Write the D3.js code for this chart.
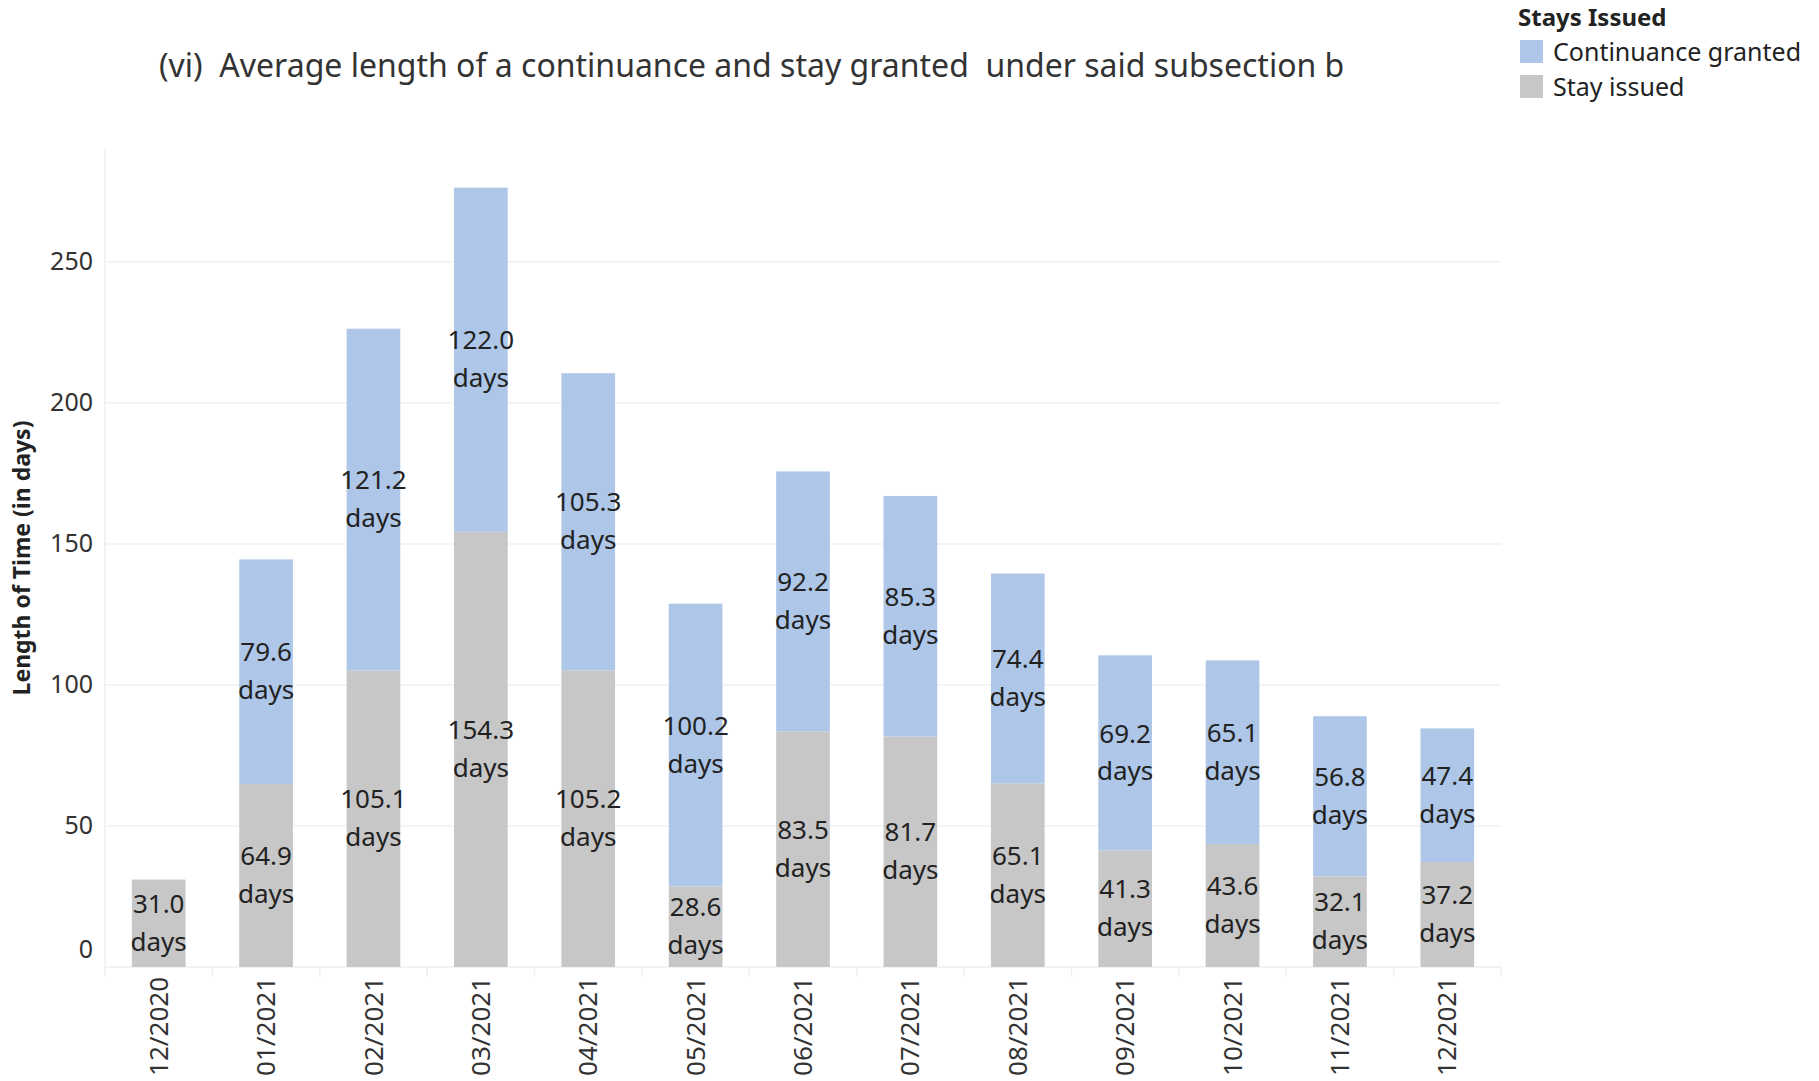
<!DOCTYPE html>
<html>
<head>
<meta charset="utf-8">
<script src="https://cdn.jsdelivr.net/npm/d3@7"></script>
<style>
  body { margin: 0; background: #fff; }
  text { font-family: "Noto Sans", "Open Sans", sans-serif; }
</style>
</head>
<body>
<div id="chart-area"></div>
<script>
var months = ["12/2020","01/2021","02/2021","03/2021","04/2021","05/2021","06/2021",
              "07/2021","08/2021","09/2021","10/2021","11/2021","12/2021"];
var stay_issued = [31.0, 64.9, 105.1, 154.3, 105.2, 28.6, 83.5, 81.7, 65.1, 41.3, 43.6, 32.1, 37.2];
var continuance = [null, 79.6, 121.2, 122.0, 105.3, 100.2, 92.2, 85.3, 74.4, 69.2, 65.1, 56.8, 47.4];
var y_ticks = [0, 50, 100, 150, 200, 250];
var series_names = ["Continuance granted", "Stay issued"];
var series_colors = ["#aec7e8", "#c7c7c7"];

var total_width = 1819;
var total_height = 1081;

var svg = d3.select('#chart-area').append('svg')
            .attr("width", total_width)
            .attr("height", total_height);

var plot_left = 105, plot_right = 1501, plot_top = 149, plot_bottom = 967;

var x = d3.scaleBand()
          .domain(months)
          .range([plot_left, plot_right])
          .paddingInner(0.5)
          .paddingOuter(0.25);

var band = d3.scaleBand().domain(months).range([plot_left, plot_right]);

var y = d3.scaleLinear()
          .domain([0, 290])
          .range([plot_bottom, plot_top]);

var data = months.map(function(m, i){
  return {month: m, stay: stay_issued[i], cont: continuance[i] || 0};
});

var stack = d3.stack().keys(["stay", "cont"])(data);

// gridlines
svg.append("g")
   .selectAll("line")
   .data(y_ticks.filter(function(d){ return d > 0; }))
   .enter().append("line")
   .attr("x1", plot_left).attr("x2", plot_right)
   .attr("y1", function(d){ return y(d); })
   .attr("y2", function(d){ return y(d); })
   .style("stroke", "#f0f0f0")
   .style("stroke-width", 1.5);

// y axis line
svg.append("line")
   .attr("x1", plot_left).attr("x2", plot_left)
   .attr("y1", plot_top).attr("y2", plot_bottom + 10)
   .style("stroke", "#efefef")
   .style("stroke-width", 1.5);

// baseline and category separators
svg.append("line")
   .attr("x1", plot_left).attr("x2", plot_right)
   .attr("y1", plot_bottom).attr("y2", plot_bottom)
   .style("stroke", "#efefef")
   .style("stroke-width", 1.5);

svg.append("g")
   .selectAll("line")
   .data(months.slice(1).concat(["end"]))
   .enter().append("line")
   .attr("x1", function(d){ return d == "end" ? plot_right : band(d); })
   .attr("x2", function(d){ return d == "end" ? plot_right : band(d); })
   .attr("y1", plot_bottom).attr("y2", plot_bottom + 10)
   .style("stroke", "#efefef")
   .style("stroke-width", 1.5);

// bars
var colors = {stay: series_colors[1], cont: series_colors[0]};
stack.forEach(function(layer){
  svg.append("g")
     .selectAll("rect")
     .data(layer.filter(function(d){ return d[1] > d[0]; }))
     .enter().append("rect")
     .attr("x", function(d){ return x(d.data.month); })
     .attr("width", x.bandwidth())
     .attr("y", function(d){ return y(d[1]); })
     .attr("height", function(d){ return y(d[0]) - y(d[1]); })
     .style("fill", colors[layer.key]);
});

// segment labels
stack.forEach(function(layer){
  var g = svg.append("g")
     .selectAll("text")
     .data(layer.filter(function(d){ return d[1] > d[0]; }))
     .enter().append("text")
     .attr("x", function(d){ return x(d.data.month) + x.bandwidth()/2; })
     .attr("y", function(d){ return y((d[0] + d[1]) / 2); })
     .style("text-anchor", "middle")
     .style("font-size", "26px")
     .style("fill", "#222");
  g.append("tspan")
   .attr("x", function(d){ return x(d.data.month) + x.bandwidth()/2; })
   .attr("dy", "-0.4em")
   .text(function(d){ return (d[1] - d[0]).toFixed(1); });
  g.append("tspan")
   .attr("x", function(d){ return x(d.data.month) + x.bandwidth()/2; })
   .attr("dy", "1.46em")
   .text("days");
});

// y axis
var yAxis = d3.axisLeft(y).tickValues(y_ticks).tickSize(0).tickPadding(0);
var yg = svg.append("g")
   .attr("transform", "translate(" + (plot_left - 12) + ",0)")
   .call(yAxis);
yg.select(".domain").remove();
yg.selectAll("text")
  .style("font-size", "25px")
  .style("fill", "#333")
  .style("font-family", "\"Noto Sans\", sans-serif")
  .attr("dy", function(d){ return d == 0 ? "-0.4em" : "0.32em"; });

// x axis
var xAxis = d3.axisBottom(x).tickSize(0).tickPadding(0);
var xg = svg.append("g")
   .attr("transform", "translate(0," + plot_bottom + ")")
   .call(xAxis);
xg.select(".domain").remove();
xg.selectAll("text")
  .style("font-size", "26px")
  .style("fill", "#333")
  .style("font-family", "\"Noto Sans\", sans-serif")
  .style("text-anchor", "end")
  .attr("transform", "rotate(-90)")
  .attr("x", -10)
  .attr("y", 0)
  .attr("dy", "0.35em");

// axis title
svg.append("text")
   .attr("transform", "translate(30," + 558 + ") rotate(-90)")
   .style("text-anchor", "middle")
   .style("font-size", "23px")
   .style("font-weight", "bold")
   .style("fill", "#222")
   .text("Length of Time (in days)");

// chart title
svg.append("text")
   .attr("x", 159)
   .attr("y", 77)
   .style("font-size", "32px")
   .style("fill", "#333")
   .style("white-space", "pre")
   .attr("xml:space", "preserve")
   .text("(vi)  Average length of a continuance and stay granted  under said subsection b");

// legend
svg.append("text")
   .attr("x", 1518)
   .attr("y", 26)
   .style("font-size", "24px")
   .style("font-weight", "bold")
   .style("fill", "#222")
   .text("Stays Issued");

var legend = svg.append("g")
   .selectAll("g")
   .data(series_names)
   .enter().append("g")
   .attr("transform", function(d, i){ return "translate(1520," + (40 + i * 35) + ")"; });

legend.append("rect")
   .attr("width", 23).attr("height", 23)
   .style("fill", function(d, i){ return series_colors[i]; });

legend.append("text")
   .attr("x", 33)
   .attr("y", 12)
   .attr("dy", "0.35em")
   .style("font-size", "25px")
   .style("fill", "#222")
   .text(function(d){ return d; });
</script>
</body>
</html>
